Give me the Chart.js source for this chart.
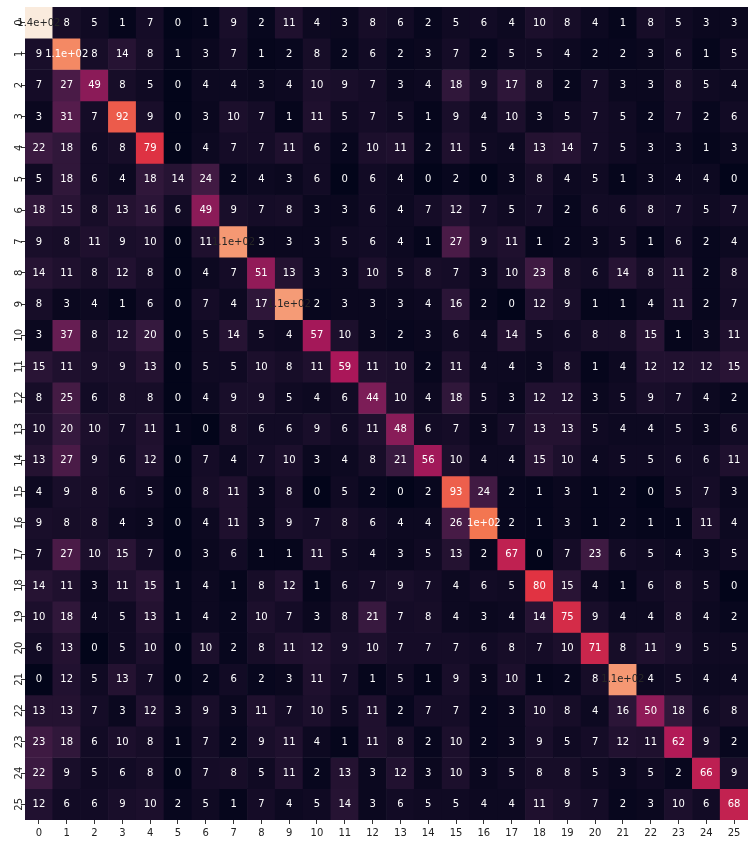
<!DOCTYPE html>
<html><head><meta charset="utf-8">
<script src="https://cdn.jsdelivr.net/npm/chart.js@4/dist/chart.umd.min.js"></script>
<style>html,body{margin:0;padding:0;background:#fff;} #wrap{width:756px;height:846px;position:relative;}</style>
</head><body><div id="wrap"><canvas id="c" width="756" height="846"></canvas></div>
<script>
const categories = ['0','1','2','3','4','5','6','7','8','9','10','11','12','13','14','15','16','17','18','19','20','21','22','23','24','25'];
const row00 = [140,8,5,1,7,0,1,9,2,11,4,3,8,6,2,5,6,4,10,8,4,1,8,5,3,3];
const row01 = [9,106,8,14,8,1,3,7,1,2,8,2,6,2,3,7,2,5,5,4,2,2,3,6,1,5];
const row02 = [7,27,49,8,5,0,4,4,3,4,10,9,7,3,4,18,9,17,8,2,7,3,3,8,5,4];
const row03 = [3,31,7,92,9,0,3,10,7,1,11,5,7,5,1,9,4,10,3,5,7,5,2,7,2,6];
const row04 = [22,18,6,8,79,0,4,7,7,11,6,2,10,11,2,11,5,4,13,14,7,5,3,3,1,3];
const row05 = [5,18,6,4,18,14,24,2,4,3,6,0,6,4,0,2,0,3,8,4,5,1,3,4,4,0];
const row06 = [18,15,8,13,16,6,49,9,7,8,3,3,6,4,7,12,7,5,7,2,6,6,8,7,5,7];
const row07 = [9,8,11,9,10,0,11,111,3,3,3,5,6,4,1,27,9,11,1,2,3,5,1,6,2,4];
const row08 = [14,11,8,12,8,0,4,7,51,13,3,3,10,5,8,7,3,10,23,8,6,14,8,11,2,8];
const row09 = [8,3,4,1,6,0,7,4,17,112,2,3,3,3,4,16,2,0,12,9,1,1,4,11,2,7];
const row10 = [3,37,8,12,20,0,5,14,5,4,57,10,3,2,3,6,4,14,5,6,8,8,15,1,3,11];
const row11 = [15,11,9,9,13,0,5,5,10,8,11,59,11,10,2,11,4,4,3,8,1,4,12,12,12,15];
const row12 = [8,25,6,8,8,0,4,9,9,5,4,6,44,10,4,18,5,3,12,12,3,5,9,7,4,2];
const row13 = [10,20,10,7,11,1,0,8,6,6,9,6,11,48,6,7,3,7,13,13,5,4,4,5,3,6];
const row14 = [13,27,9,6,12,0,7,4,7,10,3,4,8,21,56,10,4,4,15,10,4,5,5,6,6,11];
const row15 = [4,9,8,6,5,0,8,11,3,8,0,5,2,0,2,93,24,2,1,3,1,2,0,5,7,3];
const row16 = [9,8,8,4,3,0,4,11,3,9,7,8,6,4,4,26,100,2,1,3,1,2,1,1,11,4];
const row17 = [7,27,10,15,7,0,3,6,1,1,11,5,4,3,5,13,2,67,0,7,23,6,5,4,3,5];
const row18 = [14,11,3,11,15,1,4,1,8,12,1,6,7,9,7,4,6,5,80,15,4,1,6,8,5,0];
const row19 = [10,18,4,5,13,1,4,2,10,7,3,8,21,7,8,4,3,4,14,75,9,4,4,8,4,2];
const row20 = [6,13,0,5,10,0,10,2,8,11,12,9,10,7,7,7,6,8,7,10,71,8,11,9,5,5];
const row21 = [0,12,5,13,7,0,2,6,2,3,11,7,1,5,1,9,3,10,1,2,8,111,4,5,4,4];
const row22 = [13,13,7,3,12,3,9,3,11,7,10,5,11,2,7,7,2,3,10,8,4,16,50,18,6,8];
const row23 = [23,18,6,10,8,1,7,2,9,11,4,1,11,8,2,10,2,3,9,5,7,12,11,62,9,2];
const row24 = [22,9,5,6,8,0,7,8,5,11,2,13,3,12,3,10,3,5,8,8,5,3,5,2,66,9];
const row25 = [12,6,6,9,10,2,5,1,7,4,5,14,3,6,5,5,4,4,11,9,7,2,3,10,6,68];
const rows = [row00,row01,row02,row03,row04,row05,row06,row07,row08,row09,row10,row11,row12,row13,row14,row15,row16,row17,row18,row19,row20,row21,row22,row23,row24,row25];

const vmin = 0, vmax = 140;
const rocketStops = [[0,'#03051a'],[1/7,'#35193e'],[2/7,'#701f57'],[3/7,'#ad1759'],[4/7,'#e13342'],[5/7,'#f37651'],[6/7,'#f6b48f'],[1,'#faebdd']];
function hex2rgb(h){return [parseInt(h.substr(1,2),16),parseInt(h.substr(3,2),16),parseInt(h.substr(5,2),16)];}
function cmapRGB(v){
  let t = Math.max(0, Math.min(1, (v - vmin) / (vmax - vmin)));
  for (let k = 0; k < rocketStops.length - 1; k++) {
    const [p0,c0] = rocketStops[k], [p1,c1] = rocketStops[k+1];
    if (t <= p1) {
      const f = (t - p0) / (p1 - p0);
      const a = hex2rgb(c0), b = hex2rgb(c1);
      return a.map((x,i)=>Math.round(x + (b[i]-x)*f));
    }
  }
  return hex2rgb(rocketStops[rocketStops.length-1][1]);
}
function cmap(v){const c = cmapRGB(v); return 'rgb('+c[0]+','+c[1]+','+c[2]+')';}
function lum(rgb){
  const l = rgb.map(x=>{x/=255; return x <= 0.03928 ? x/12.92 : Math.pow((x+0.055)/1.055, 2.4);});
  return 0.2126*l[0] + 0.7152*l[1] + 0.0722*l[2];
}
function textColor(v){ return lum(cmapRGB(v)) > 0.408 ? '#262626' : '#ffffff'; }
function fmt(v){
  if (v === 0) return '0';
  const e = Math.floor(Math.log10(Math.abs(v)));
  if (e >= 2) {
    let s = v.toExponential(1);
    let [m, ex] = s.split('e');
    m = m.replace(/\.0$/, '');
    const sign = ex[0] === '-' ? '-' : '+';
    let d = ex.replace(/^[+-]/, '');
    if (d.length < 2) d = '0' + d;
    return m + 'e' + sign + d;
  }
  return String(parseFloat(v.toPrecision(2)));
}

const datasets = rows.map((r, i) => ({
  label: 'row ' + i,
  data: r.map(() => [i - 0.5, i + 0.5]),
  backgroundColor: r.map(v => cmap(v)),
  borderWidth: 0,
  grouped: false,
  barPercentage: 1,
  categoryPercentage: 1
}));

const cellText = {
  id: 'cellText',
  afterDatasetsDraw(chart){
    const ctx = chart.ctx; ctx.save();
    ctx.font = '10px "DejaVu Sans"'; ctx.textAlign = 'center'; ctx.textBaseline = 'middle';
    chart.data.datasets.forEach((ds, i) => {
      const meta = chart.getDatasetMeta(i);
      meta.data.forEach((bar, j) => {
        const v = rows[i][j];
        ctx.fillStyle = textColor(v);
        ctx.fillText(fmt(v), bar.x, (bar.y + bar.base) / 2 + 0.5);
      });
    });
    ctx.restore();
  }
};

const tickFont = {family: 'DejaVu Sans', size: 10};
new Chart(document.getElementById('c'), {
  type: 'bar',
  data: {labels: categories, datasets},
  options: {
    responsive: false, animation: false, devicePixelRatio: 1,
    layout: {padding: {top: 7, right: 8, bottom: 0, left: 0}},
    plugins: {legend: {display: false}, tooltip: {enabled: false}},
    scales: {
      x: {
        type: 'category', offset: true,
        grid: {display: true, drawOnChartArea: false, drawTicks: true, tickLength: 4, offset: false, color: '#333', lineWidth: 1},
        border: {display: false},
        ticks: {color: '#222', font: tickFont, padding: 3, minRotation: 0, maxRotation: 0, autoSkip: false},
        afterFit(s){ s.height = 26; }
      },
      y: {
        type: 'linear', min: -0.5, max: 25.5, reverse: true,
        afterBuildTicks(s){ s.ticks = categories.map((c, i) => ({value: i})); },
        grid: {display: true, drawOnChartArea: false, drawTicks: true, tickLength: 4, color: '#333', lineWidth: 1},
        border: {display: false},
        ticks: {stepSize: 1, color: '#222', font: tickFont, padding: -5, minRotation: 90, maxRotation: 90, crossAlign: 'center', autoSkip: false, callback: v => String(v)},
        afterFit(s){ s.width = 25; }
      }
    }
  },
  plugins: [cellText]
});
</script>
</body></html>
